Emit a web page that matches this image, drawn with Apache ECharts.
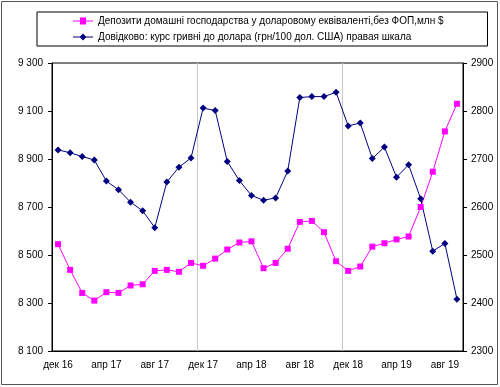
<!DOCTYPE html>
<html><head><meta charset="utf-8">
<script src="https://cdn.jsdelivr.net/npm/echarts@6/dist/echarts.min.js"></script>
<style>html,body{margin:0;padding:0;background:#fff}#c{width:500px;height:387px}</style>
</head><body><div id="c"></div>
<script>
const categories = ["дек 16","січ 17","лют 17","бер 17","апр 17","тра 17","чер 17","лип 17","авг 17","вер 17","жов 17","лис 17",
"дек 17","січ 18","лют 18","бер 18","апр 18","тра 18","чер 18","лип 18","авг 18","вер 18","жов 18","лис 18",
"дек 18","січ 19","лют 19","бер 19","апр 19","тра 19","чер 19","лип 19","авг 19","вер 19"];
const deposits = [8545,8438,8342,8310,8345,8342,8373,8378,8434,8438,8430,8467,8455,8485,8523,8552,8557,8445,8467,8526,8638,8642,8595,8474,8434,8452,8535,8549,8565,8577,8700,8847,9015,9130];
const rate = [2719,2713,2705,2698,2654,2636,2610,2592,2557,2652,2683,2702,2806,2801,2695,2655,2624,2614,2619,2675,2828,2830,2830,2839,2769,2775,2701,2725,2662,2688,2617,2508,2524,2408];
const seriesNames = ["Депозити домашні господарства у доларовому еквіваленті,без ФОП,млн $","Довідково: курс гривні до долара (грн/100 дол. США) правая шкала"];

const chart = echarts.init(document.getElementById('c'));
const font = 'Liberation Sans, Arial, sans-serif';
chart.setOption({
  animation:false,
  textStyle:{fontFamily:font},
  graphic:[{type:'rect',shape:{x:1.5,y:1.5,width:496,height:383},style:{fill:null,stroke:'#555',lineWidth:1},silent:true}],
  legend:{
    orient:'vertical', left:37, top:12,
    padding:[4,44,4,36], itemGap:6,
    borderColor:'#000', borderWidth:1,
    itemWidth:20, itemHeight:12,
    textStyle:{fontSize:10,color:'#000',fontFamily:font},
    data:[{name:seriesNames[0],icon:'path://M0,5L7,5L7,2L13,2L13,5L20,5L20,6L13,6L13,9L7,9L7,6L0,6Z'},
          {name:seriesNames[1],icon:'path://M0,5L7,5L10,2L13,5L20,5L20,6L13,6L10,9L7,6L0,6Z'}]
  },
  grid:{left:52,right:37,top:63,bottom:36,show:true,borderColor:'#000',borderWidth:1},
  xAxis:{type:'category',data:categories,boundaryGap:true,
    axisLine:{lineStyle:{color:'#000'}},
    axisTick:{interval:11,length:5,lineStyle:{color:'#000'}},
    axisLabel:{interval:3,color:'#000',fontSize:10,margin:9,fontFamily:font},
    splitLine:{show:true,interval:11,lineStyle:{color:'#c8c8c8'}}},
  yAxis:[
    {type:'value',min:8100,max:9300,interval:200,
     axisLine:{show:true,lineStyle:{color:'#000'}},
     axisTick:{show:true,length:4,lineStyle:{color:'#000'}},
     axisLabel:{color:'#000',fontSize:10,margin:9,fontFamily:font,
       formatter:v=>{const s=String(v);return s.length>3?s.slice(0,s.length-3)+' '+s.slice(-3):s;}},
     splitLine:{show:false}},
    {type:'value',min:2300,max:2900,interval:100,position:'right',
     axisLine:{show:true,lineStyle:{color:'#000'}},
     axisTick:{show:true,length:4,lineStyle:{color:'#000'}},
     axisLabel:{color:'#000',fontSize:10,margin:8,fontFamily:font,formatter:v=>String(v)},
     splitLine:{show:false}}
  ],
  series:[
    {name:seriesNames[0],type:'line',data:deposits,yAxisIndex:0,
     symbol:'rect',symbolSize:6,
     lineStyle:{color:'#FF00FF',width:1},itemStyle:{color:'#FF00FF'}},
    {name:seriesNames[1],type:'line',data:rate,yAxisIndex:1,
     symbol:'diamond',symbolSize:7,
     lineStyle:{color:'#000080',width:1},itemStyle:{color:'#000080'}}
  ]
});
</script></body></html>
